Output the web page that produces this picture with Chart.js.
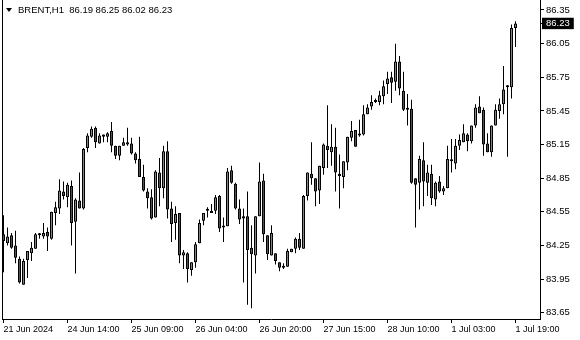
<!DOCTYPE html>
<html>
<head>
<meta charset="utf-8">
<script src="https://cdn.jsdelivr.net/npm/chart.js@4.4.1/dist/chart.umd.min.js"></script>
<style>
  html, body { margin: 0; padding: 0; background: #fff; }
  #wrap { position: relative; width: 580px; height: 340px; }
  #hdr {
    position: absolute; left: 6px; top: 4px;
    font: 9.5px "Liberation Sans", Arial, sans-serif; line-height: 12px;
    color: #000; white-space: pre;
  }
  #hdr .tri {
    display: inline-block; width: 0; height: 0; margin-right: 6px; vertical-align: 1px;
    border-left: 3px solid transparent; border-right: 3px solid transparent; border-top: 4px solid #000;
  }
</style>
</head>
<body>
<div id="wrap">
  <canvas id="chart" width="580" height="340"></canvas>
  <div id="hdr"><span class="tri"></span>BRENT,H1  86.19 86.25 86.02 86.23</div>
</div>
<script>
// -------------------------------------
// BRENT H1 candles
// -------------------------------------
const tickIdx = [0, 16, 32, 48, 64, 80, 96, 112, 128];
const timeLabels = ["21 Jun 2024", "24 Jun 14:00", "25 Jun 09:00", "26 Jun 04:00", "26 Jun 20:00",
  "27 Jun 15:00", "28 Jun 10:00", "1 Jul 03:00", "1 Jul 19:00"];
const priceTicks = [83.65, 83.95, 84.25, 84.55, 84.85, 85.15, 85.45, 85.75, 86.05, 86.35];
const lastClose = 86.23;

const open = [
  84.35, 84.27, 84.34, 84.25, 84.13, 83.90, 84.12, 84.18, 84.22, 84.34,
  84.33, 84.37, 84.31, 84.54, 84.58, 84.73, 84.68, 84.78, 84.46, 84.65,
  84.58, 85.12, 85.22, 85.30, 85.16, 85.24, 85.22, 85.27, 85.14, 85.05,
  85.14, 85.17, 85.16, 85.07, 85.02, 84.86, 84.73, 84.68, 84.50, 84.90,
  84.76, 85.09, 84.58, 84.45, 84.54, 84.16, 84.18, 84.03, 84.10, 84.27,
  84.47, 84.56, 84.56, 84.56, 84.69, 84.42, 84.42, 84.92, 84.80, 84.58,
  84.51, 84.51, 84.23, 84.16, 84.51, 84.83, 84.34, 84.16, 84.18, 84.10,
  84.05, 84.06, 84.19, 84.22, 84.31, 84.22, 84.69, 84.89, 84.85, 84.74,
  84.94, 85.14, 85.08, 85.13, 84.89, 84.86, 84.99, 85.21, 85.28, 85.24,
  85.24, 85.42, 85.49, 85.53, 85.53, 85.58, 85.69, 85.75, 85.71, 85.89,
  85.63, 85.47, 85.47, 84.85, 84.81, 85.01, 84.81, 84.89, 84.66, 84.82,
  84.73, 84.76, 85.00, 84.98, 85.14, 85.17, 85.24, 85.18, 85.32, 85.49,
  85.46, 85.16, 85.08, 85.32, 85.45, 85.51, 85.66, 85.66, 86.19
];
const high = [
  84.52, 84.41, 84.36, 84.38, 84.15, 84.13, 84.20, 84.28, 84.36, 84.36,
  84.45, 84.41, 84.55, 84.64, 84.84, 84.82, 84.81, 84.83, 84.67, 84.90,
  85.12, 85.25, 85.31, 85.31, 85.25, 85.24, 85.26, 85.35, 85.14, 85.14,
  85.21, 85.30, 85.21, 85.08, 85.22, 84.97, 84.76, 84.75, 84.92, 85.03,
  85.14, 85.18, 84.64, 84.60, 84.54, 84.21, 84.19, 84.10, 84.28, 84.48,
  84.54, 84.59, 84.62, 84.70, 84.70, 84.50, 84.94, 84.96, 84.81, 84.66,
  84.58, 84.73, 84.43, 84.51, 84.99, 84.89, 84.34, 84.43, 84.18, 84.10,
  84.09, 84.22, 84.22, 84.32, 84.36, 84.70, 84.90, 85.17, 84.85, 84.96,
  85.16, 85.50, 85.33, 85.30, 85.06, 85.00, 85.22, 85.36, 85.28, 85.37,
  85.50, 85.51, 85.59, 85.56, 85.63, 85.72, 85.80, 85.80, 86.05, 85.94,
  85.80, 85.60, 85.55, 84.85, 85.05, 85.17, 84.97, 84.97, 84.82, 84.87,
  84.78, 85.14, 85.20, 85.20, 85.24, 85.33, 85.25, 85.32, 85.51, 85.58,
  85.48, 85.25, 85.32, 85.51, 85.56, 85.85, 85.68, 86.22, 86.25
];
const low = [
  84.01, 84.25, 84.22, 84.09, 83.91, 83.90, 83.96, 84.11, 84.22, 84.31,
  84.31, 84.20, 84.30, 84.43, 84.53, 84.66, 84.59, 84.25, 84.00, 84.58,
  84.57, 85.08, 85.21, 85.12, 85.16, 85.17, 85.17, 85.08, 85.02, 85.01,
  85.14, 85.14, 85.06, 84.98, 84.86, 84.73, 84.58, 84.48, 84.50, 84.60,
  84.67, 84.49, 84.28, 84.30, 84.09, 84.04, 83.92, 83.98, 84.05, 84.27,
  84.43, 84.50, 84.54, 84.53, 84.37, 84.28, 84.42, 84.80, 84.57, 84.44,
  83.92, 83.72, 83.69, 84.00, 84.51, 84.28, 84.12, 84.16, 84.08, 84.02,
  84.04, 84.06, 84.19, 84.18, 84.21, 84.22, 84.65, 84.79, 84.60, 84.62,
  84.88, 84.94, 84.96, 84.73, 84.58, 84.76, 84.92, 85.18, 85.13, 85.22,
  85.23, 85.42, 85.46, 85.52, 85.50, 85.51, 85.60, 85.52, 85.63, 85.59,
  85.45, 85.32, 84.80, 84.41, 84.57, 84.60, 84.69, 84.61, 84.60, 84.72,
  84.70, 84.76, 84.90, 84.93, 85.10, 85.17, 85.09, 85.16, 85.30, 85.43,
  85.05, 85.08, 85.04, 85.32, 85.38, 85.42, 85.04, 85.56, 86.02
];
const close = [
  84.29, 84.33, 84.23, 84.14, 83.92, 84.11, 84.20, 84.23, 84.35, 84.35,
  84.36, 84.33, 84.55, 84.59, 84.74, 84.69, 84.79, 84.45, 84.66, 84.58,
  85.11, 85.23, 85.29, 85.17, 85.23, 85.22, 85.25, 85.14, 85.05, 85.14,
  85.17, 85.15, 85.07, 85.01, 84.86, 84.74, 84.67, 84.49, 84.91, 84.76,
  85.09, 84.57, 84.44, 84.53, 84.16, 84.19, 84.04, 84.10, 84.26, 84.45,
  84.54, 84.57, 84.54, 84.68, 84.40, 84.41, 84.91, 84.81, 84.58, 84.48,
  84.49, 84.21, 84.17, 84.51, 84.82, 84.35, 84.17, 84.36, 84.11, 84.05,
  84.05, 84.20, 84.22, 84.31, 84.23, 84.69, 84.90, 84.85, 84.73, 84.96,
  85.15, 85.10, 85.13, 84.90, 84.87, 85.00, 85.22, 85.27, 85.13, 85.23,
  85.42, 85.48, 85.53, 85.54, 85.59, 85.67, 85.74, 85.70, 85.89, 85.65,
  85.46, 85.46, 84.81, 84.79, 85.02, 84.82, 84.90, 84.67, 84.81, 84.73,
  84.76, 85.02, 85.01, 85.14, 85.19, 85.25, 85.18, 85.32, 85.48, 85.43,
  85.15, 85.08, 85.32, 85.46, 85.51, 85.64, 85.66, 86.19, 86.23
];

const bodies = open.map((o, i) => ({ x: i, y: [o, close[i]] }));
const wicks = low.map((l, i) => ({ x: i, y: [l, high[i]] }));
const bodyColors = open.map((o, i) => (close[i] >= o ? "#3cb43c" : "#d81818"));

// left border of the plot
const leftEdge = {
  id: "leftEdge",
  afterDraw(chart) {
    const { ctx, chartArea } = chart;
    ctx.save();
    ctx.fillStyle = "#000";
    ctx.fillRect(chartArea.left, chartArea.top, 1, chartArea.bottom - chartArea.top);
    ctx.restore();
  }
};

new Chart(document.getElementById("chart"), {
  type: "bar",
  data: {
    datasets: [
      {
        data: bodies,
        backgroundColor: bodyColors,
        borderColor: "#000",
        borderWidth: 1,
        borderSkipped: false,
        barThickness: 3,
        minBarLength: 2,
        grouped: false,
        inflateAmount: 0
      },
      {
        data: wicks,
        backgroundColor: "#000",
        borderWidth: 0,
        barThickness: 1,
        grouped: false,
        inflateAmount: 0
      }
    ]
  },
  options: {
    responsive: false,
    animation: false,
    layout: { padding: { left: 2, right: 0, top: 0, bottom: 0 } },
    plugins: { legend: { display: false }, tooltip: { enabled: false } },
    scales: {
      x: {
        type: "linear",
        min: -0.375,
        max: 134.125,
        offset: false,
        afterBuildTicks: (s) => { s.ticks = tickIdx.map((v) => ({ value: v })); },
        afterFit: (s) => { s.height = 21; s.paddingLeft = 0; s.paddingRight = 0; },
        grid: { display: true, offset: false, drawOnChartArea: false, drawTicks: true, tickLength: 4, color: "#000" },
        border: { display: true, color: "#000", width: 1 },
        ticks: {
          autoSkip: false, maxRotation: 0, minRotation: 0, align: "start", padding: 1,
          color: "#000", font: { family: "Liberation Sans", size: 9 },
          callback: (v, i) => timeLabels[i]
        }
      },
      y: {
        position: "right",
        min: 83.5935,
        max: 86.4392,
        beginAtZero: false,
        afterBuildTicks: (s) => {
          s.ticks = priceTicks.concat([lastClose]).sort((a, b) => a - b).map((v) => ({ value: v }));
        },
        afterFit: (s) => { s.width = 40; s.paddingTop = 0; s.paddingBottom = 0; },
        grid: { display: true, drawOnChartArea: false, drawTicks: true, tickLength: 4, color: "#000" },
        border: { display: true, color: "#000", width: 1 },
        ticks: {
          autoSkip: false, padding: 2,
          font: { family: "Liberation Sans", size: 9.5 },
          color: (c) => (c.tick && c.tick.value === lastClose ? "#fff" : "#000"),
          showLabelBackdrop: (c) => !!(c.tick && c.tick.value === lastClose),
          backdropColor: "#000",
          backdropPadding: { left: 4, right: 4, top: 0, bottom: 0 },
          callback: (v) => Number(v).toFixed(2)
        }
      }
    }
  },
  plugins: [leftEdge]
});
</script>
</body>
</html>
